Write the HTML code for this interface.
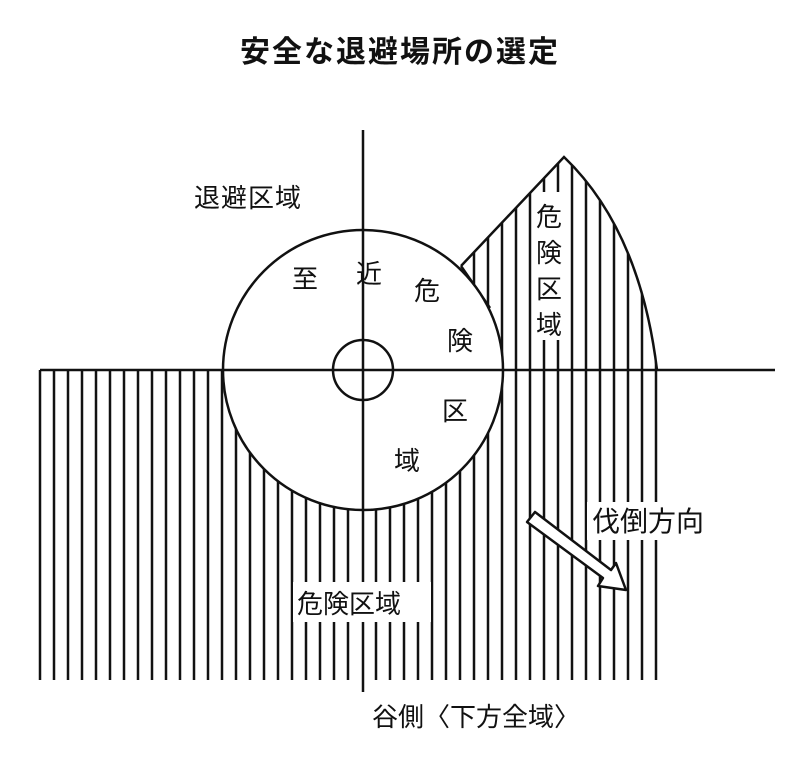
<!DOCTYPE html>
<html><head><meta charset="utf-8"><style>
html,body{margin:0;padding:0;background:#fff;}
svg{display:block;}
text{font-family:"Liberation Sans","Noto Sans CJK JP",sans-serif;fill:#111;}
</style></head><body>
<svg width="800" height="759" viewBox="0 0 800 759" xmlns="http://www.w3.org/2000/svg">
<defs>
<clipPath id="up"><path d="M461,266 L564,157 Q640,230 657,370 L500,370 L490,308 Z"/></clipPath>
</defs>
<text x="400" y="62" font-size="30" font-weight="bold" text-anchor="middle" letter-spacing="2">安全な退避場所の選定</text>
<path stroke="#111" stroke-width="2.5" fill="none" d="M40,370V680 M54,370V680 M68,370V680 M82,370V680 M96,370V680 M110,370V680 M124,370V680 M138,370V680 M152,370V680 M166,370V680 M180,370V680 M194,370V680 M208,370V680 M222,370V680 M236,370V680 M250,370V680 M264,370V680 M278,370V680 M292,370V680 M306,370V680 M320,370V680 M334,370V680 M348,370V680 M376,370V680 M390,370V680 M404,370V680 M418,370V680 M432,370V680 M446,370V680 M460,370V680 M474,370V680 M488,370V680 M502,370V680 M516,370V680 M530,370V680 M544,370V680 M558,370V680 M572,370V680 M586,370V680 M600,370V680 M614,370V680 M628,370V680 M642,370V680 M656,370V680"/>
<path clip-path="url(#up)" stroke="#111" stroke-width="2.5" fill="none" d="M460,150V370 M474,150V370 M488,150V370 M502,150V370 M516,150V370 M530,150V370 M544,150V370 M558,150V370 M572,150V370 M586,150V370 M600,150V370 M614,150V370 M628,150V370 M642,150V370 M656,150V370"/>
<path d="M461,266 L564,157 Q640,230 657,370 M461,266 L490,308" fill="none" stroke="#111" stroke-width="2.5"/>
<rect x="533" y="192" width="34" height="148" fill="#fff"/>
<circle cx="363" cy="370" r="140" fill="#fff" stroke="#111" stroke-width="2.5"/>
<circle cx="363" cy="370" r="30" fill="#fff" stroke="#111" stroke-width="2.5"/>
<line x1="40" y1="370" x2="775" y2="370" stroke="#111" stroke-width="2.5"/>
<line x1="363" y1="130" x2="363" y2="692" stroke="#111" stroke-width="2.5"/>
<rect x="293" y="582" width="138" height="40" fill="#fff"/>
<rect x="587" y="502" width="138" height="38" fill="#fff"/>
<path d="M527,522 L603,578 L598,586 L626,590 L616,563 L611,570 L535,512 Z" fill="#fff" stroke="#111" stroke-width="2.5" stroke-linejoin="round"/>
<g font-size="26">
<text x="194" y="207" letter-spacing="1">退避区域</text>
<text x="292" y="288">至</text>
<text x="356" y="283">近</text>
<text x="414" y="300">危</text>
<text x="447" y="350">険</text>
<text x="442" y="420">区</text>
<text x="394" y="470">域</text>
<text x="536" y="226">危</text>
<text x="536" y="262">険</text>
<text x="536" y="298">区</text>
<text x="536" y="334">域</text>
<text x="297" y="613">危険区域</text>
<text x="592" y="531" font-size="28">伐倒方向</text>
<text x="372" y="726">谷側〈下方全域〉</text>
</g>
</svg>
</body></html>
